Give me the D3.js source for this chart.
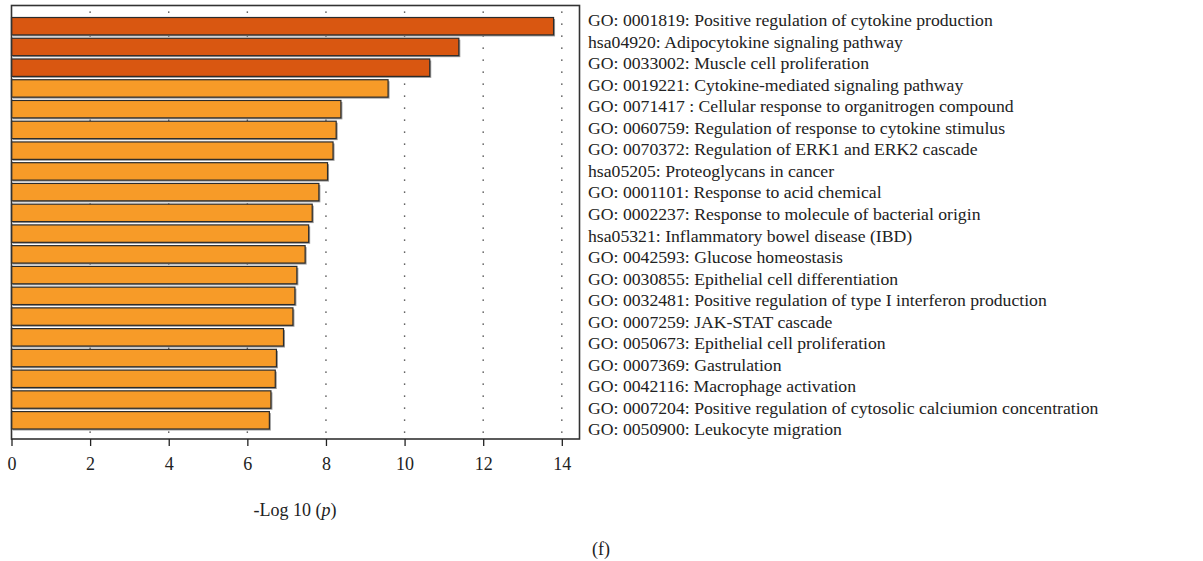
<!DOCTYPE html>
<html>
<head>
<meta charset="utf-8">
<script src="https://cdn.jsdelivr.net/npm/d3@7"></script>
<style>
  body { margin: 0; background: #fff; }
  svg text { font-family: "Liberation Serif", "DejaVu Serif", serif; fill: #222; }
</style>
</head>
<body>
<svg id="chart" width="1203" height="561"></svg>
<script>
// Enrichment terms, top to bottom
const terms = [
    'GO: 0001819: Positive regulation of cytokine production',
    'hsa04920: Adipocytokine signaling pathway',
    'GO: 0033002: Muscle cell proliferation',
    'GO: 0019221: Cytokine-mediated signaling pathway',
    'GO: 0071417 : Cellular response to organitrogen compound',
    'GO: 0060759: Regulation of response to cytokine stimulus',
    'GO: 0070372: Regulation of ERK1 and ERK2 cascade',
    'hsa05205: Proteoglycans in cancer',
    'GO: 0001101: Response to acid chemical',
    'GO: 0002237: Response to molecule of bacterial origin',
    'hsa05321: Inflammatory bowel disease (IBD)',
    'GO: 0042593: Glucose homeostasis',
    'GO: 0030855: Epithelial cell differentiation',
    'GO: 0032481: Positive regulation of type I interferon production',
    'GO: 0007259: JAK-STAT cascade',
    'GO: 0050673: Epithelial cell proliferation',
    'GO: 0007369: Gastrulation',
    'GO: 0042116: Macrophage activation',
    'GO: 0007204: Positive regulation of cytosolic calciumion concentration',
    'GO: 0050900: Leukocyte migration'
];

// -log10(p) for each term
const logP = [13.79, 11.38, 10.64, 9.58, 8.38, 8.26, 8.18, 8.04, 7.82, 7.65,
              7.56, 7.47, 7.26, 7.21, 7.16, 6.92, 6.74, 6.71, 6.60, 6.56];

const xTicks = [0, 2, 4, 6, 8, 10, 12, 14];
const xMax = 14.45;

const frame = { left: 11.5, top: 5.5, right: 579.5, bottom: 439 };
const darkOrange = '#d95711';
const lightOrange = '#f79b28';

const svg = d3.select('#chart');

const x = d3.scaleLinear()
    .domain([0, xMax])
    .range([frame.left, frame.right]);

const y = d3.scaleBand()
    .domain(terms)
    .range([17.5, 429])
    .paddingInner(0.16);

// dotted vertical grid
const gridStep = 12;
xTicks.filter(t => t > 0).forEach(t => {
    svg.append('line')
        .attr('x1', x(t)).attr('x2', x(t))
        .attr('y1', frame.top + 6).attr('y2', frame.bottom)
        .attr('stroke', '#333')
        .attr('stroke-width', 1.4)
        .attr('stroke-dasharray', `1.2,${gridStep - 1.2}`);
});

// bar shadows
svg.append('g')
    .selectAll('rect')
    .data(terms)
    .join('rect')
    .attr('x', x(0) + 1.5)
    .attr('y', d => y(d) + 1.5)
    .attr('width', (d, i) => x(logP[i]) - x(0))
    .attr('height', y.bandwidth())
    .attr('fill', '#9a9a9a');

// bars
svg.append('g')
    .selectAll('rect')
    .data(terms)
    .join('rect')
    .attr('x', x(0))
    .attr('y', d => y(d))
    .attr('width', (d, i) => x(logP[i]) - x(0))
    .attr('height', y.bandwidth())
    .attr('fill', (d, i) => i < 3 ? darkOrange : lightOrange)
    .attr('stroke', '#2b2b2b')
    .attr('stroke-width', 1.2);

// frame
svg.append('rect')
    .attr('x', frame.left)
    .attr('y', frame.top)
    .attr('width', frame.right - frame.left)
    .attr('height', frame.bottom - frame.top)
    .attr('fill', 'none')
    .attr('stroke', '#333')
    .attr('stroke-width', 1.6);

// x axis
const xAxis = d3.axisBottom(x)
    .tickValues(xTicks)
    .tickSize(7)
    .tickPadding(11)
    .tickFormat(d3.format('d'));

const axisG = svg.append('g')
    .attr('transform', `translate(0,${frame.bottom})`)
    .call(xAxis);
axisG.select('.domain').remove();
axisG.selectAll('.tick line').attr('stroke', '#222').attr('stroke-width', 1.3);
axisG.selectAll('.tick text')
    .attr('font-family', '"Liberation Serif", serif')
    .attr('font-size', 18)
    .attr('fill', '#222');

// axis title
const title = svg.append('text')
    .attr('x', 295)
    .attr('y', 516)
    .attr('text-anchor', 'middle')
    .attr('font-size', 18);
title.append('tspan').text('-Log 10 (');
title.append('tspan').attr('font-style', 'italic').text('p');
title.append('tspan').text(')');

// term labels
svg.append('g')
    .selectAll('text')
    .data(terms)
    .join('text')
    .attr('x', 588)
    .attr('y', (d, i) => 26 + i * 21.55)
    .attr('font-size', 17.7)
    .text(d => d);

// panel letter
svg.append('text')
    .attr('x', 601)
    .attr('y', 555)
    .attr('text-anchor', 'middle')
    .attr('font-size', 18)
    .text('(f)');
</script>
</body>
</html>
